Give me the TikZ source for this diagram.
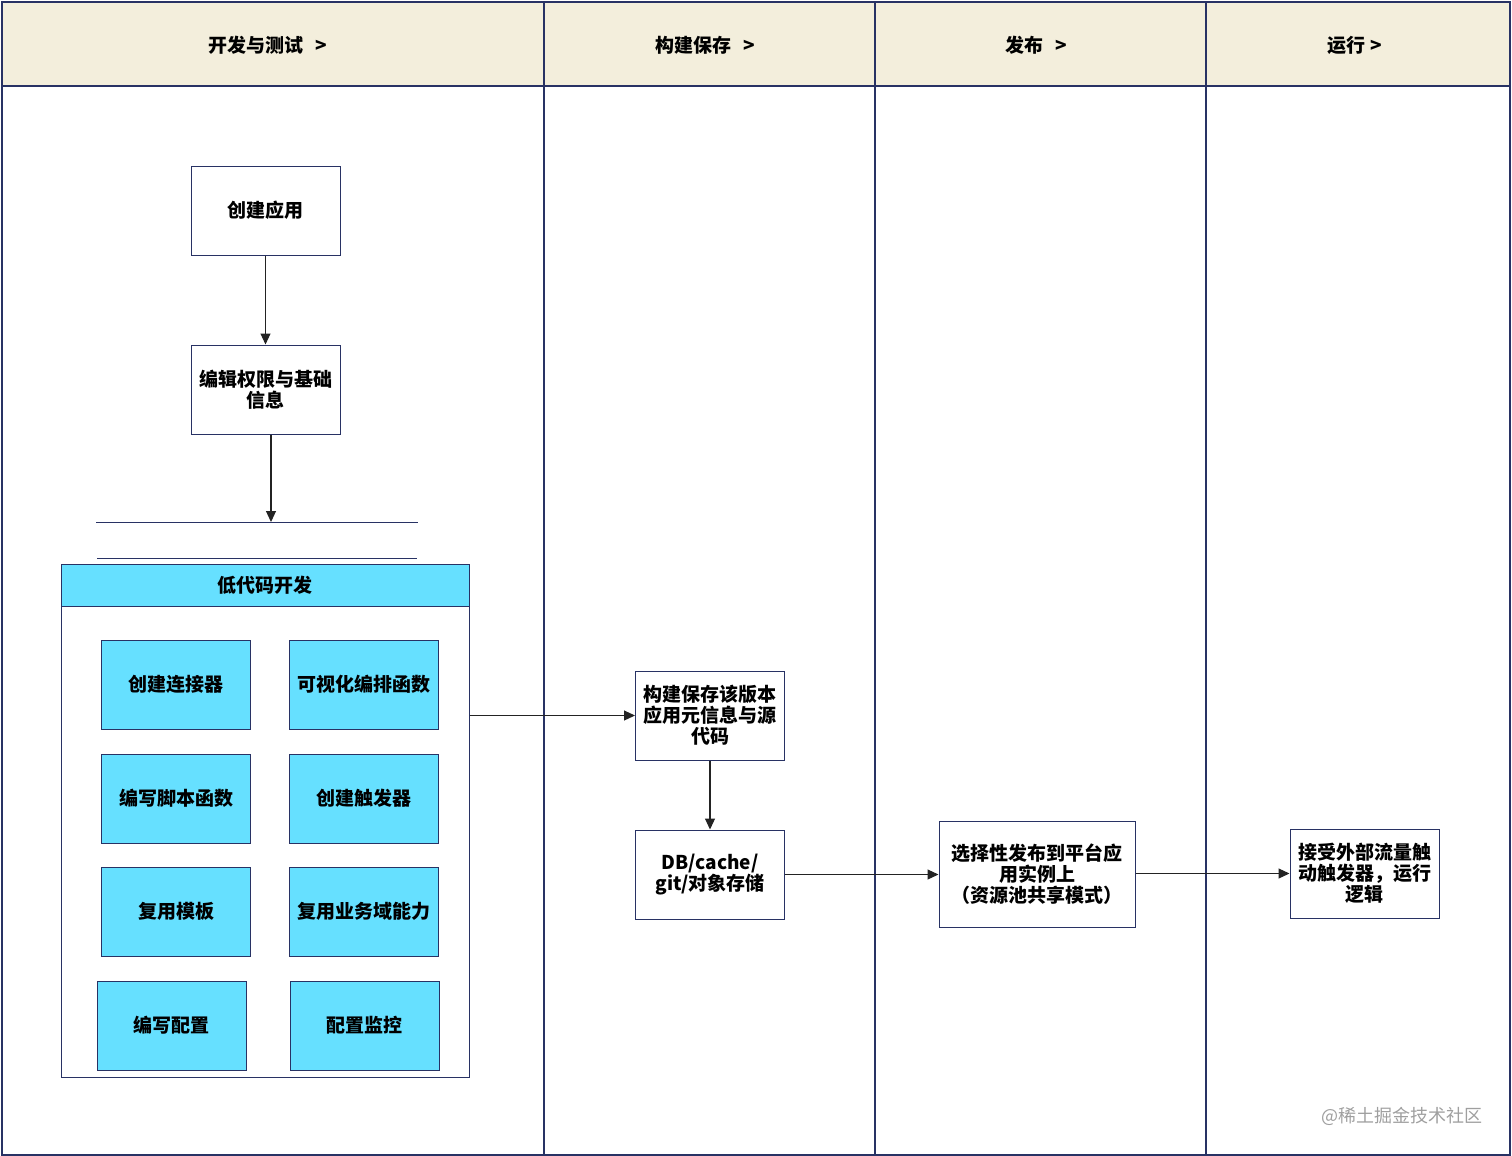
\documentclass[tikz,border=0pt]{standalone}
\usepackage{fontspec}
\setmainfont{Noto Sans CJK SC}
\usetikzlibrary{arrows.meta,positioning}
\definecolor{lanenavy}{RGB}{40,50,100}
\definecolor{headcream}{RGB}{243,238,220}
\definecolor{lowcyan}{RGB}{102,224,255}
\definecolor{flowgray}{RGB}{35,35,35}
\newcommand{\boxfont}{\fontsize{19}{21}\selectfont\bfseries}
\tikzset{
  box/.style={rectangle, draw=lanenavy, line width=1pt, fill=white,
              minimum width=149pt, minimum height=89pt, align=center, font=\boxfont, inner sep=0pt},
  boxcyan/.style={box, fill=lowcyan},
  lanehead/.style={font=\boxfont},
  lane/.style={lanenavy, line width=1.2pt},
  arrow/.style={-{Triangle[length=11pt,width=10pt]}, line width=1.1pt, flowgray},
  watermark/.style={text=gray!75, font=\fontsize{18}{20}\selectfont},
}

\begin{document}
\begin{tikzpicture}[x=1pt,y=-1pt,node distance=89pt]
\useasboundingbox (0,0) rectangle (1512,1156);
% swimlanes
\fill[headcream] (2,2) rectangle (1510,86);
\draw[lane] (2,2) rectangle (1510,1155);
\draw[lane] (2,86) -- (1510,86);
\foreach \x in {544,875,1206}
  \draw[lane] (\x,2) -- (\x,1155);
\node[lanehead] (devhead) at (268,45) {开发与测试\hspace{12pt}>};
\node[lanehead] (buildhead) at (705,45) {构建保存\hspace{12pt}>};
\node[lanehead] (pubhead) at (1036,45) {发布\hspace{12pt}>};
\node[lanehead] (runhead) at (1355,45) {运行\hspace{5pt}>};

% develop and test
\node[box] (create) at (265.5,210.5) {创建应用};
\node[box, below=of create] (perm) {编辑权限与基础\\信息};
\coordinate (barL) at (96,522);
\coordinate (barR) at (418,522);
\coordinate (barhit) at (271,522);
\draw[lanenavy, line width=1pt] (barL) -- (barR);
\draw[lanenavy, line width=1pt] (97,558) -- (417,558);

\node[box, minimum width=408pt, minimum height=513pt] (lowcode) at (265,820.5) {};
\node[boxcyan, minimum width=408pt, minimum height=42pt, anchor=north] (lowhead) at (lowcode.north) {低代码开发};
\node[boxcyan] (conn) at (176,684.5) {创建连接器};
\node[boxcyan] (visual) at (363.5,684.5) {可视化编排函数};
\node[boxcyan] (script) at (176,798.5) {编写脚本函数};
\node[boxcyan] (trigger) at (363.5,798.5) {创建触发器};
\node[boxcyan] (tmpl) at (176,911.5) {复用模板};
\node[boxcyan] (domain) at (363.5,911.5) {复用业务域能力};
\node[boxcyan] (config) at (171.5,1025.5) {编写配置};
\node[boxcyan] (monitor) at (364.5,1025.5) {配置监控};

% build, publish, run
\node[box] (build) at (710,715.5) {构建保存该版本\\应用元信息与源\\代码};
\node[box, below=69pt of build] (store) {DB/cache/\\git/对象存储};
\node[box, minimum width=196pt, minimum height=106pt] (publish) at (1037,874) {选择性发布到平台应\\用实例上\\（资源池共享模式）};
\node[box] (run) at (1364.5,873.5) {接受外部流量触\\动触发器，运行\\逻辑};

\draw[arrow] (create) -- (perm);
\draw[arrow] (perm.south -| barhit) -- (barhit);
\draw[arrow] (lowcode.east |- build.west) -- (build.west);
\draw[arrow] (build) -- (store);
\draw[arrow] (store.east) -- (publish.west |- store.east);
\draw[arrow] (publish.east |- run.west) -- (run.west);

\node[watermark] (mark) at (1402,1116) {@稀土掘金技术社区};
\end{tikzpicture}
\end{document}
